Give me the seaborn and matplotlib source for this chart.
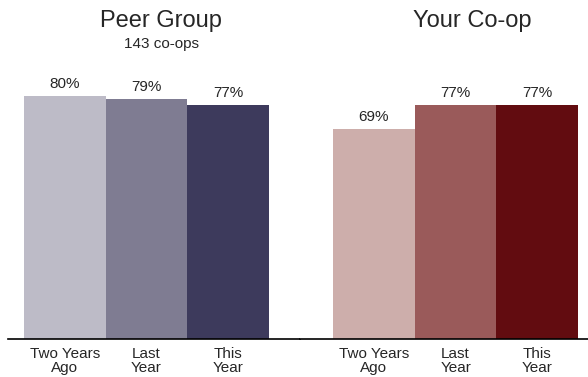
import matplotlib
matplotlib.use("Agg")
import matplotlib.pyplot as plt
import seaborn as sns
import pandas as pd

categories = ["Two Years\nAgo", "Last\nYear", "This\nYear"]
peer_values = [80, 79, 77]
coop_values = [69, 77, 77]
peer_colors = ["#BDBBC7", "#7F7C92", "#3D3A5C"]
coop_colors = ["#CDAEAB", "#9A5A5A", "#620C10"]

sns.set_theme(style="white")
plt.rcParams["font.family"] = ["Liberation Sans", "DejaVu Sans"]
TXT = "#262626"

W, H = 588, 377
fig = plt.figure(figsize=(W / 100, H / 100), dpi=100)

base_y = 339
ax_h = 310
axes_specs = [
    (8, 300, -0.696, 2.88, peer_values, peer_colors),
    (300, 588, -0.904, 2.62, coop_values, coop_colors),
]
for x0, x1, xl0, xl1, vals, cols in axes_specs:
    ax = fig.add_axes([x0 / W, (H - base_y) / H, (x1 - x0) / W, ax_h / H])
    df = pd.DataFrame({"cat": categories, "val": vals})
    sns.barplot(data=df, x="cat", y="val", hue="cat", palette=cols,
                width=1.0, legend=False, ax=ax, saturation=1, linewidth=0)
    ax.set_xlim(xl0, xl1)
    ax.set_ylim(0, ax_h / 3.04)
    for c in ax.containers:
        ax.bar_label(c, fmt="{:.0f}%", padding=3.5, fontsize=11, color=TXT)
    ax.set_xlabel("")
    ax.set_ylabel("")
    ax.set_yticks([])
    for s in ["top", "left", "right"]:
        ax.spines[s].set_visible(False)
    ax.spines["bottom"].set_color("black")
    ax.spines["bottom"].set_linewidth(1.2)
    ax.tick_params(axis="x", length=0, pad=5.5, labelsize=11, labelcolor=TXT)
    for lab in ax.get_xticklabels():
        lab.set_linespacing(1.0)

fig.text(161 / W, 1 - 21 / H, "Peer Group", ha="center", va="center",
         fontsize=17, color=TXT)
fig.text(161 / W, 1 - 44 / H, "143 co-ops", ha="center", va="center",
         fontsize=11, color=TXT)
fig.text(472 / W, 1 - 21 / H, "Your Co-op", ha="center", va="center",
         fontsize=17, color=TXT)

fig.savefig("out.png", dpi=100)
